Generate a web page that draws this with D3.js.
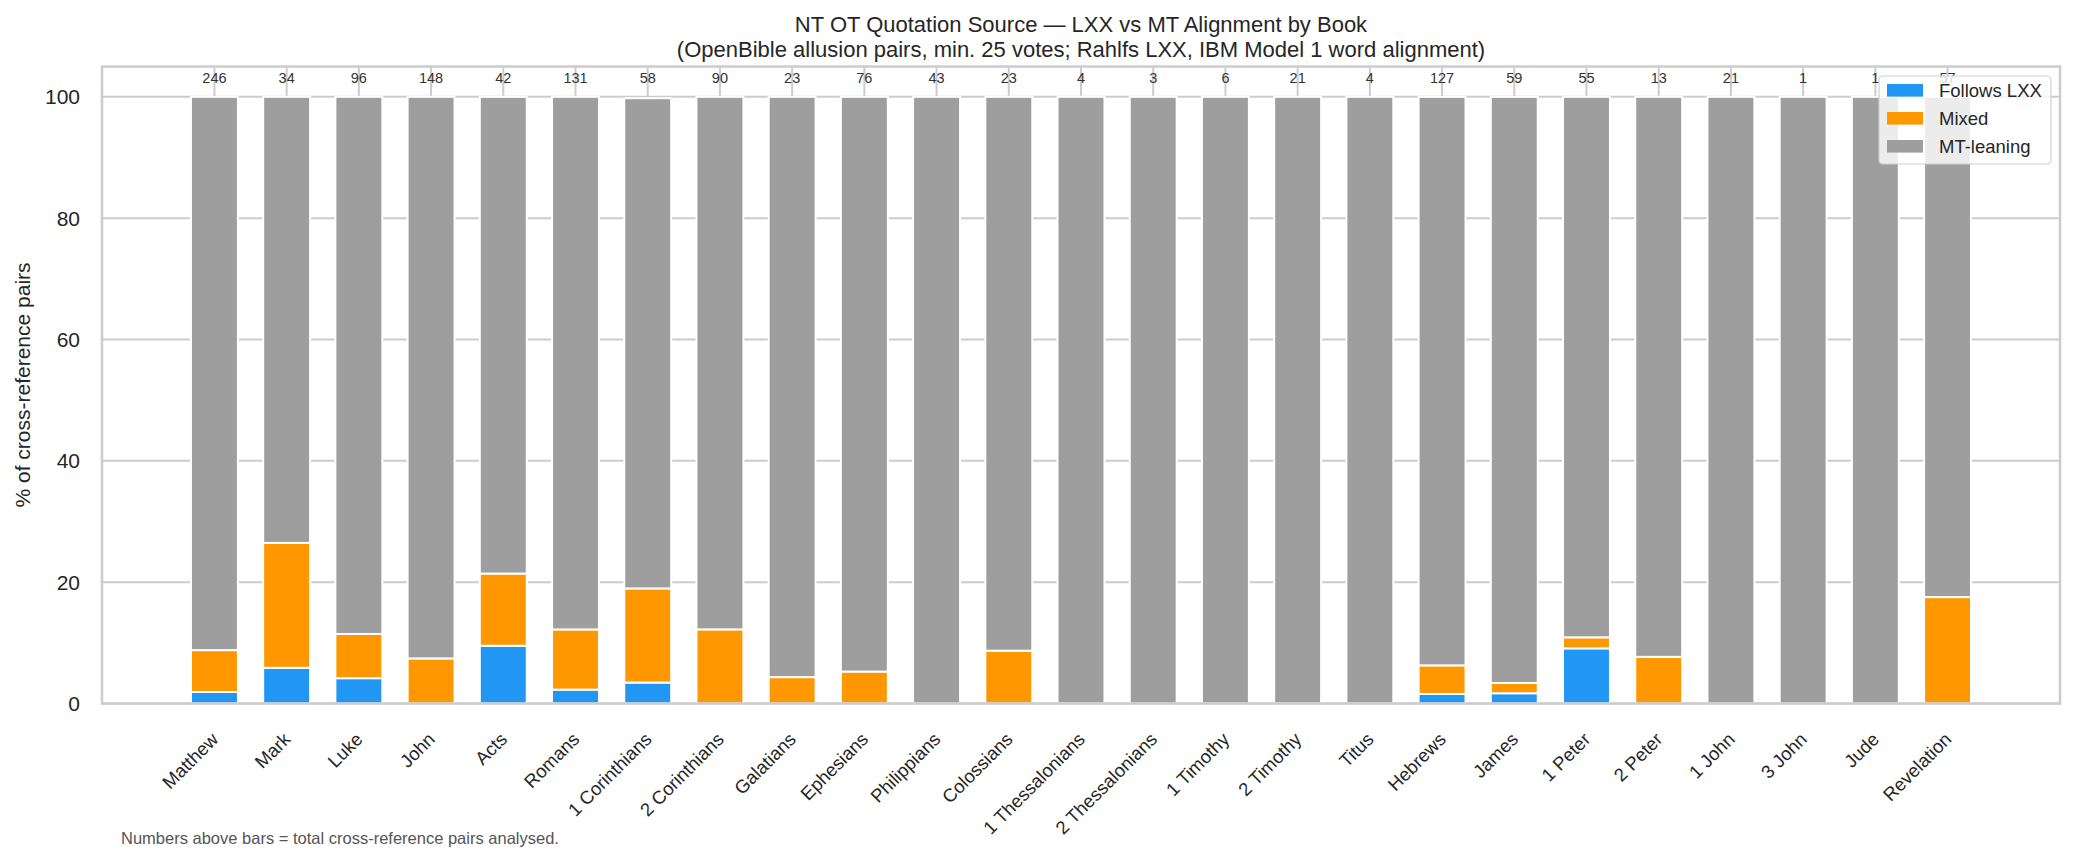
<!DOCTYPE html>
<html>
<head>
<meta charset="utf-8" />
<title>LXX vs MT by book</title>
<script src="https://d3js.org/d3.v7.min.js"></script>
<style>
    body { margin: 0; background: white; }
    text { font-family: "Liberation Sans", Arial, sans-serif; }
</style>
</head>
<body>
<svg id="chart" width="2075" height="862"></svg>

<script>
// Data
var books = ["Matthew", "Mark", "Luke", "John", "Acts", "Romans", "1 Corinthians", "2 Corinthians",
    "Galatians", "Ephesians", "Philippians", "Colossians", "1 Thessalonians", "2 Thessalonians",
    "1 Timothy", "2 Timothy", "Titus", "Hebrews", "James", "1 Peter", "2 Peter", "1 John",
    "3 John", "Jude", "Revelation"];
var totals = [246, 34, 96, 148, 42, 131, 58, 90, 23, 76, 43, 23, 4, 3, 6, 21, 4, 127, 59, 55, 13, 21, 1, 1, 57];
var followsLxx = [1.9, 5.88, 4.17, 0, 9.52, 2.29, 3.45, 0, 0, 0, 0, 0, 0, 0, 0, 0, 0, 1.57, 1.69, 9.09, 0, 0, 0, 0, 0];
var mixed = [6.9, 20.59, 7.29, 7.43, 11.90, 9.92, 15.52, 12.22, 4.35, 5.26, 0, 8.70, 0, 0, 0, 0, 0, 4.72, 1.69, 1.82, 7.69, 0, 0, 0, 17.54];
var mtLeaning = [91.2, 73.53, 88.54, 92.57, 78.57, 87.79, 80.8, 87.78, 95.65, 94.74, 100, 91.30, 100, 100, 100, 100, 100, 93.70, 96.61, 89.09, 92.31, 100, 100, 100, 82.46];
var yTicks = [0, 20, 40, 60, 80, 100];

var seriesKeys = ["Follows LXX", "Mixed", "MT-leaning"];
var seriesColors = ["#2196F3", "#FF9800", "#9E9E9E"];

// table for d3.stack
var rows = books.map(function(b, i) {
    return { book: b, idx: i, "Follows LXX": followsLxx[i], "Mixed": mixed[i], "MT-leaning": mtLeaning[i] };
});

var svg = d3.select("#chart");
// plot box (pixels)
var pLeft = 102, pRight = 2060, pTop = 66.5, pBottom = 703.5;
var barW = 0.65;

var x = d3.scaleLinear().domain([-1.557, books.length - 1 + 1.557]).range([pLeft, pRight]);
var y = d3.scaleLinear().domain([0, 105]).range([pBottom, pTop]);
var color = d3.scaleOrdinal().domain(seriesKeys).range(seriesColors);

// grid lines
svg.append("g").selectAll("line")
    .data(books)
    .enter().append("line")
    .attr("x1", function(d, i) { return x(i); })
    .attr("x2", function(d, i) { return x(i); })
    .attr("y1", pTop).attr("y2", pBottom)
    .attr("stroke", "#cccccc").attr("stroke-width", 2);

svg.append("g").selectAll("line")
    .data(yTicks)
    .enter().append("line")
    .attr("x1", pLeft).attr("x2", pRight)
    .attr("y1", function(d) { return y(d); })
    .attr("y2", function(d) { return y(d); })
    .attr("stroke", "#cccccc").attr("stroke-width", 2);

// stacked bars
var stacked = d3.stack().keys(seriesKeys)(rows);

svg.append("g").selectAll("g")
    .data(stacked)
    .enter().append("g")
    .attr("fill", function(d) { return color(d.key); })
    .selectAll("rect")
    .data(function(d) { return d.filter(function(p) { return p[1] - p[0] > 0; }); })
    .enter().append("rect")
    .attr("x", function(d) { return x(d.data.idx - barW / 2); })
    .attr("width", function(d) { return x(barW) - x(0); })
    .attr("y", function(d) { return y(d[1]); })
    .attr("height", function(d) { return y(d[0]) - y(d[1]); })
    .attr("stroke", "white")
    .attr("stroke-width", 2);

// totals above bars
svg.append("g").selectAll("text")
    .data(totals)
    .enter().append("text")
    .attr("x", function(d, i) { return x(i); })
    .attr("y", y(102.2))
    .attr("text-anchor", "middle")
    .attr("font-size", "14.5px")
    .attr("fill", "#333333")
    .text(function(d) { return d; });

// spines
svg.append("rect")
    .attr("x", pLeft).attr("y", pTop)
    .attr("width", pRight - pLeft).attr("height", pBottom - pTop)
    .attr("fill", "none")
    .attr("stroke", "#cccccc").attr("stroke-width", 2.5);

// y axis labels
svg.append("g").selectAll("text")
    .data(yTicks)
    .enter().append("text")
    .attr("x", 80)
    .attr("y", function(d) { return y(d); })
    .attr("dy", "0.36em")
    .attr("text-anchor", "end")
    .attr("font-size", "21px")
    .attr("fill", "#262626")
    .text(function(d) { return d; });

svg.append("text")
    .attr("transform", "translate(30," + ((pTop + pBottom) / 2) + ") rotate(-90)")
    .attr("text-anchor", "middle")
    .attr("font-size", "21px")
    .attr("fill", "#262626")
    .text("% of cross-reference pairs");

// x axis labels, rotated
svg.append("g").selectAll("text")
    .data(books)
    .enter().append("text")
    .attr("transform", function(d, i) {
        return "translate(" + (x(i) + 5) + "," + (pBottom + 37) + ") rotate(-45)";
    })
    .attr("text-anchor", "end")
    .attr("font-size", "18.5px")
    .attr("fill", "#262626")
    .text(function(d) { return d; });

// title
var title = svg.append("text")
    .attr("text-anchor", "middle")
    .attr("font-size", "22px")
    .attr("fill", "#262626");
title.append("tspan").attr("x", (pLeft + pRight) / 2).attr("y", 31.7)
    .text("NT OT Quotation Source \u2014 LXX vs MT Alignment by Book");
title.append("tspan").attr("x", (pLeft + pRight) / 2).attr("y", 57.3)
    .text("(OpenBible allusion pairs, min. 25 votes; Rahlfs LXX, IBM Model 1 word alignment)");

// footnote
svg.append("text")
    .attr("x", 121).attr("y", 844)
    .attr("font-size", "16.5px")
    .attr("fill", "#555555")
    .text("Numbers above bars = total cross-reference pairs analysed.");

// legend
var legend = svg.append("g");
legend.append("rect")
    .attr("x", 1879).attr("y", 76)
    .attr("width", 172).attr("height", 88)
    .attr("rx", 4)
    .attr("fill", "white").attr("fill-opacity", 0.8)
    .attr("stroke", "#d0d0d0").attr("stroke-width", 1.2);

var items = legend.selectAll("g")
    .data(seriesKeys)
    .enter().append("g")
    .attr("transform", function(d, i) { return "translate(1887," + (90.3 + i * 28) + ")"; });
items.append("rect")
    .attr("x", 0).attr("y", -6.3)
    .attr("width", 36).attr("height", 12.6)
    .attr("fill", function(d) { return color(d); });
items.append("text")
    .attr("x", 52).attr("y", 0).attr("dy", "0.36em")
    .attr("font-size", "18.5px")
    .attr("fill", "#262626")
    .text(function(d) { return d; });
</script>
</body>
</html>
